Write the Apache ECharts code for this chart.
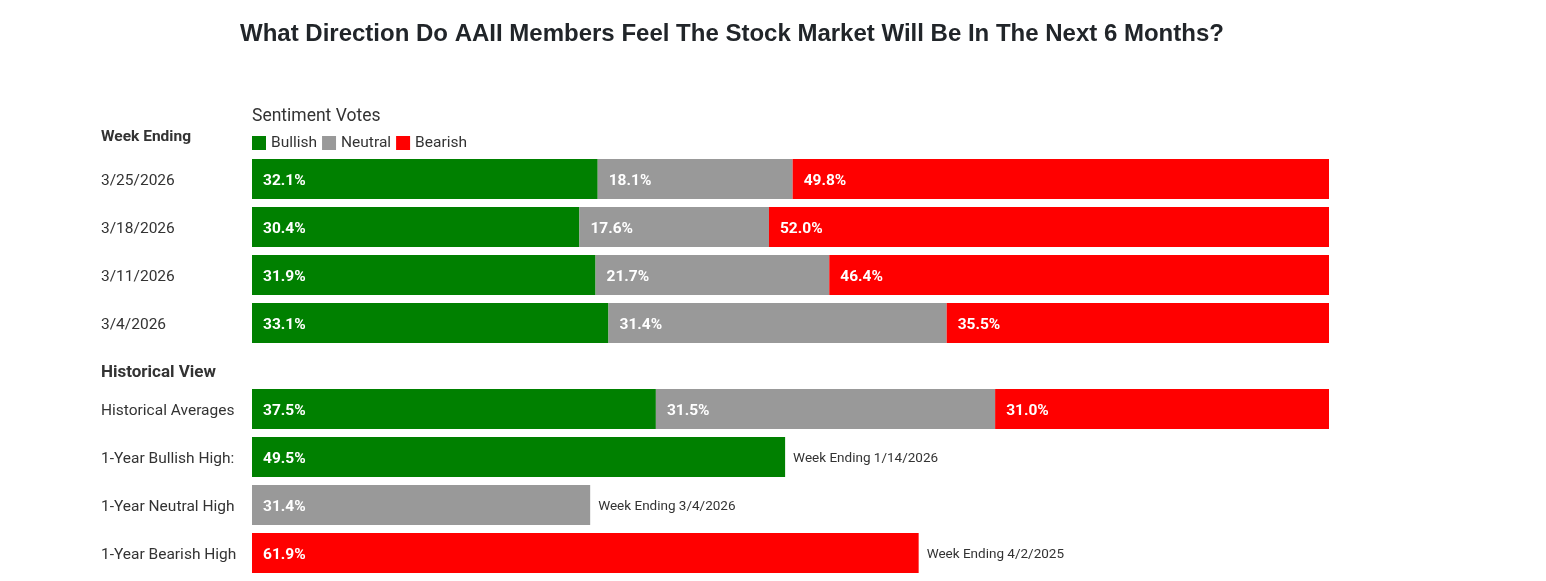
<!DOCTYPE html>
<html>
<head>
<meta charset="utf-8">
<script src="https://cdn.jsdelivr.net/npm/echarts@6/dist/echarts.min.js"></script>
<style>
html,body{margin:0;padding:0;background:#fff;}
#chart{width:1546px;height:581px;}
</style>
</head>
<body>
<div id="chart"></div>
<script>
var weekCategories = ['3/25/2026', '3/18/2026', '3/11/2026', '3/4/2026'];
var weekBullish = [32.1, 30.4, 31.9, 33.1];
var weekNeutral = [18.1, 17.6, 21.7, 31.4];
var weekBearish = [49.8, 52.0, 46.4, 35.5];

var histCategories = ['Historical Averages', '1-Year Bullish High:', '1-Year Neutral High', '1-Year Bearish High'];
var histBullish = [37.5, 49.5, '-', '-'];
var histNeutral = [31.5, '-', 31.4, '-'];
var histBearish = [31.0, '-', '-', 61.9];
var histNotes = ['', 'Week Ending 1/14/2026', 'Week Ending 3/4/2026', 'Week Ending 4/2/2025'];

var COLORS = { Bullish: '#008000', Neutral: '#999999', Bearish: '#ff0000' };
var FONT = 'Roboto, "Noto Sans", sans-serif';

var chart = echarts.init(document.getElementById('chart'));

var barLabel = {
  show: true,
  position: 'insideLeft',
  distance: 11,
  offset: [0, 2],
  color: '#ffffff',
  fontFamily: FONT,
  fontWeight: 'bold',
  fontSize: 15.5,
  formatter: function (p) { return Number(p.value).toFixed(1) + '%'; }
};

function bar(name, data, idx) {
  return {
    name: name,
    type: 'bar',
    stack: 's' + idx,
    xAxisIndex: idx,
    yAxisIndex: idx,
    barWidth: 40,
    data: data,
    itemStyle: { color: COLORS[name] },
    label: barLabel,
    emphasis: { disabled: true },
    animation: false
  };
}

var yAxisCommon = {
  type: 'category',
  inverse: true,
  axisLine: { show: false },
  axisTick: { show: false },
  axisLabel: {
    align: 'left',
    margin: 151,
    formatter: function (v) { return '{t|' + v + '}'; },
    rich: {
      t: {
        color: '#333333',
        fontFamily: FONT,
        fontSize: 15.5,
        padding: [4, 0, 0, 0]
      }
    }
  }
};

var xAxisCommon = { type: 'value', min: 0, max: 100, show: false };

chart.setOption({
  animation: false,
  title: {
    text: 'What Direction Do AAII Members Feel The Stock Market Will Be In The Next 6 Months?',
    left: 235,
    top: 17,
    textStyle: {
      fontFamily: '"Liberation Sans", Arial, sans-serif',
      fontWeight: 'bold',
      fontSize: 24,
      color: '#212529'
    }
  },
  legend: {
    data: ['Bullish', 'Neutral', 'Bearish'],
    left: 247,
    top: 130,
    icon: 'rect',
    itemWidth: 14,
    itemHeight: 14,
    itemGap: 5,
    selectedMode: false,
    textStyle: { fontFamily: FONT, fontSize: 15.5, color: '#333333' }
  },
  graphic: [
    { type: 'text', left: 252, top: 108, style: { text: 'Sentiment Votes', fontFamily: FONT, fontSize: 17.5, fill: '#333333' } },
    { type: 'text', left: 101, top: 129, style: { text: 'Week Ending', fontFamily: FONT, fontSize: 15.5, fontWeight: 'bold', fill: '#333333' } },
    { type: 'text', left: 101, top: 364, style: { text: 'Historical View', fontFamily: FONT, fontSize: 17, fontWeight: 'bold', fill: '#333333' } }
  ],
  grid: [
    { left: 252, right: 217, top: 155, height: 192 },
    { left: 252, right: 217, top: 385, height: 192 }
  ],
  xAxis: [
    Object.assign({ gridIndex: 0 }, xAxisCommon),
    Object.assign({ gridIndex: 1 }, xAxisCommon)
  ],
  yAxis: [
    Object.assign({ gridIndex: 0, data: weekCategories }, yAxisCommon),
    Object.assign({ gridIndex: 1, data: histCategories }, yAxisCommon)
  ],
  series: [
    bar('Bullish', weekBullish, 0),
    bar('Neutral', weekNeutral, 0),
    bar('Bearish', weekBearish, 0),
    bar('Bullish', histBullish, 1),
    bar('Neutral', histNeutral, 1),
    bar('Bearish', histBearish, 1),
    {
      name: 'note',
      type: 'bar',
      stack: 's1',
      xAxisIndex: 1,
      yAxisIndex: 1,
      barWidth: 40,
      data: histNotes.map(function (t) { return t ? 0 : '-'; }),
      itemStyle: { color: 'rgba(0,0,0,0)' },
      label: {
        show: true,
        position: 'right',
        distance: 8,
        offset: [0, 1.5],
        color: '#333333',
        fontFamily: FONT,
        fontSize: 13.5,
        formatter: function (p) { return histNotes[p.dataIndex]; }
      },
      emphasis: { disabled: true },
      animation: false
    }
  ]
});
</script>
</body>
</html>
